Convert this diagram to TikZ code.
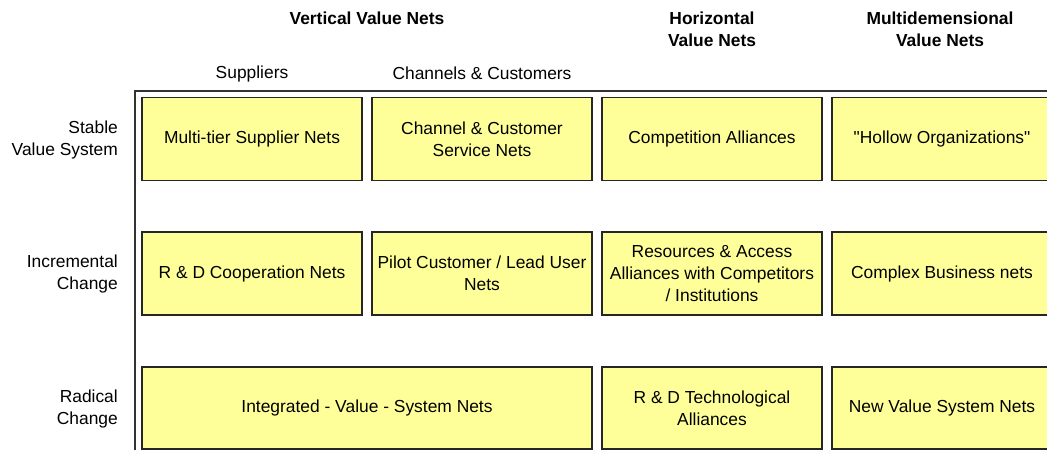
\documentclass[tikz,border=0pt]{standalone}
\usepackage{fontspec}
\setmainfont{Liberation Sans}[Ligatures=TeXOff]
\usetikzlibrary{positioning}
\definecolor{netyellow}{RGB}{255,255,153}

\begin{document}
\begin{tikzpicture}[x=1pt,y=1pt,node distance=134.5pt and 230pt,on grid,
    font=\fontsize{17.4}{22}\selectfont]
    \tikzstyle{cell}=[shape=rectangle,draw=black!85,line width=1.2pt,fill=netyellow,minimum width=220pt,minimum height=83pt,align=center,inner sep=2pt]
    \tikzstyle{rowlabel}=[anchor=east,align=right,inner sep=0pt]
    \tikzstyle{colhead}=[align=center,inner sep=0pt,font=\fontsize{17.4}{22}\selectfont\bfseries]
    \tikzstyle{subhead}=[align=center,inner sep=0pt]

    \useasboundingbox (0,0) rectangle (1047,-450);
    \clip (0,0) rectangle (1047,-450);

    % frame
    \coordinate (F0) at (135,-450);
    \coordinate (F1) at (135,-91);
    \coordinate (F2) at (1047,-91);
    \draw[line width=1.3pt,black!80] (F0) -- (F1) -- (F2);

    % headings
    \node[colhead] (H1) at (367,-18) {Vertical Value Nets};
    \node[colhead] (H2) at (712,-29) {Horizontal\\Value Nets};
    \node[colhead] (H3) at (940,-29) {Multidemensional\\Value Nets};
    \node[subhead] (V1) at (252,-73.5) {Suppliers};
    \node[subhead] (V2) at (482,-73.5) {Channels \& Customers};

    % rows
    \node[rowlabel] (R1) at (118,-139.5) {Stable\\Value System};
    \node[rowlabel] (R2) at (118,-273.5) {Incremental\\Change};
    \node[rowlabel] (R3) at (118,-408.5) {Radical\\Change};

    \node[cell] (A1) at (252,-139) {Multi-tier Supplier Nets};
    \node[cell, right=of A1] (A2) {Channel \& Customer\\Service Nets};
    \node[cell, right=of A2] (A3) {Competition Alliances};
    \node[cell, right=of A3] (A4) {"Hollow Organizations"};

    \node[cell, below=of A1] (B1) {R \& D Cooperation Nets};
    \node[cell, right=of B1] (B2) {Pilot Customer / Lead User\\Nets};
    \node[cell, right=of B2] (B3) {Resources \& Access\\Alliances with Competitors\\/ Institutions};
    \node[cell, right=of B3] (B4) {Complex Business nets};

    \node[cell, below=of B1, xshift=115pt, minimum width=450pt, minimum height=82pt] (C1) {Integrated - Value - System Nets};
    \node[cell, below=of B3, minimum height=82pt] (C3) {R \& D Technological\\Alliances};
    \node[cell, right=of C3, minimum height=82pt] (C4) {New Value System Nets};
\end{tikzpicture}
\end{document}
